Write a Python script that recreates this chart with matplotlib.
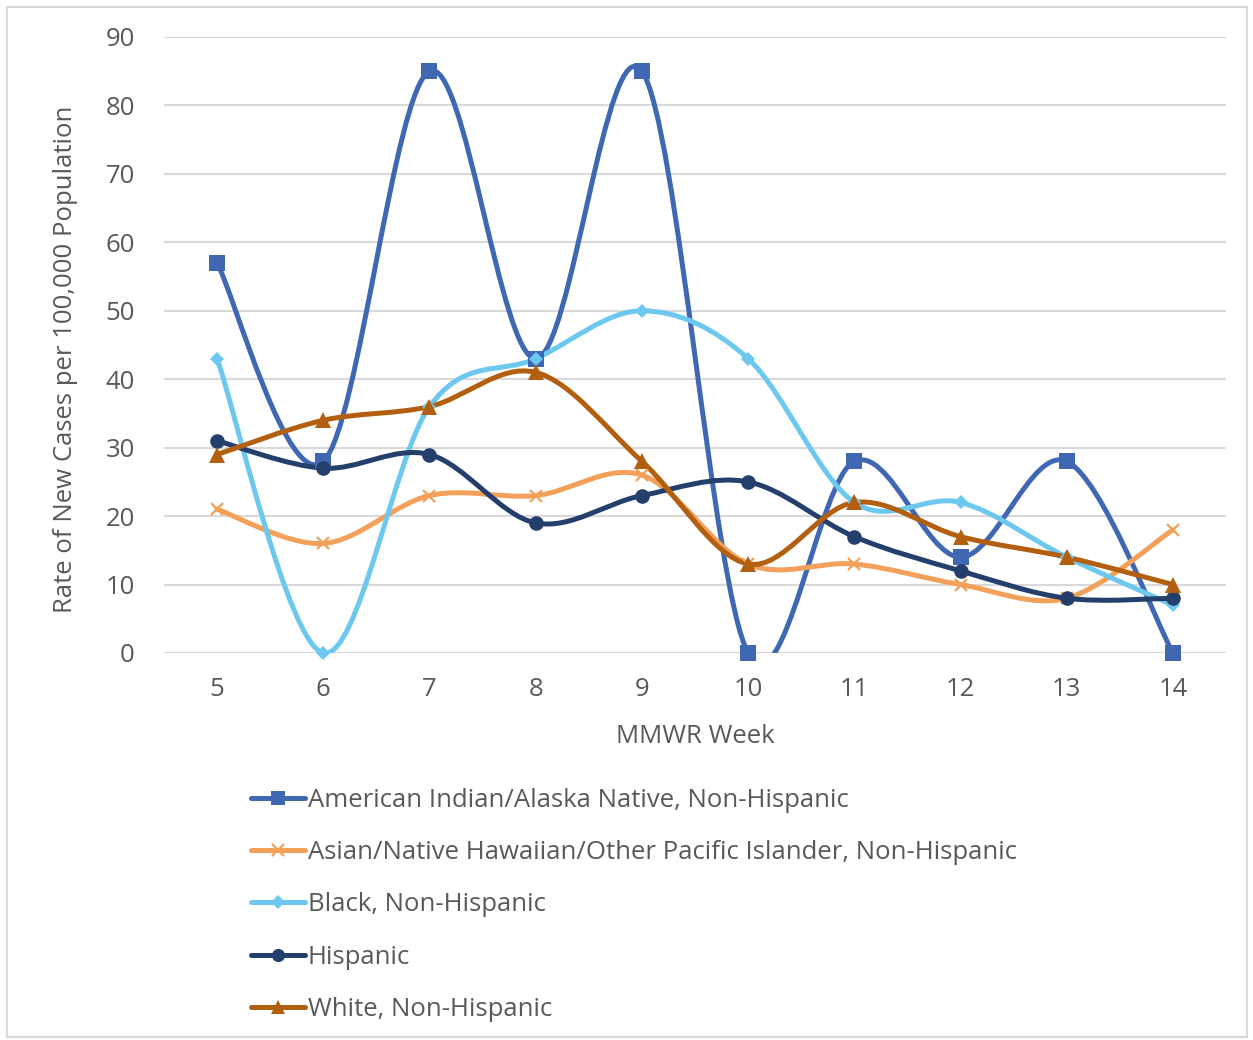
"""
Weekly rate of new cases by race/ethnicity, Excel-style smoothed lines.
"""
import matplotlib

matplotlib.use("Agg", force=True)
import matplotlib.pyplot as plt
import numpy as np
from matplotlib.lines import Line2D
from matplotlib.patches import PathPatch, Rectangle
from matplotlib.path import Path

plt.rcParams["font.family"] = ["Open Sans", "DejaVu Sans"]

weeks = [5, 6, 7, 8, 9, 10, 11, 12, 13, 14]
aian = [57, 28, 85, 43, 85, 0, 28, 14, 28, 0]
asian_nhpi = [21, 16, 23, 23, 26, 13, 13, 10, 8, 18]
black = [43, 0, 36, 43, 50, 43, 22, 22, 14, 7]
hispanic = [31, 27, 29, 19, 23, 25, 17, 12, 8, 8]
white = [29, 34, 36, 41, 28, 13, 22, 17, 14, 10]

series_labels = [
    "American Indian/Alaska Native, Non-Hispanic",
    "Asian/Native Hawaiian/Other Pacific Islander, Non-Hispanic",
    "Black, Non-Hispanic",
    "Hispanic",
    "White, Non-Hispanic",
]
y_ticks = [0, 10, 20, 30, 40, 50, 60, 70, 80, 90]

TEXT = "#595959"
GRID = "#D9D9D9"


def smooth_path(xs, ys):
    """Bezier path through the points with Catmull-Rom style tangents."""
    pts = np.column_stack([xs, ys]).astype(float)
    n = len(pts)
    verts = [pts[0]]
    codes = [Path.MOVETO]
    for i in range(n - 1):
        p0 = pts[max(i - 1, 0)]
        p1 = pts[i]
        p2 = pts[i + 1]
        p3 = pts[min(i + 2, n - 1)]
        c1 = p1 + (p2 - p0) / 6.0
        c2 = p2 - (p3 - p1) / 6.0
        verts += [c1, c2, p2]
        codes += [Path.CURVE4] * 3
    return Path(np.array(verts), codes)


fig = plt.figure(figsize=(12.53, 10.4), dpi=100)
fig.patches.append(
    Rectangle((7 / 1253, 3 / 1040), 1240 / 1253, 1030 / 1040, transform=fig.transFigure,
              facecolor="none", edgecolor=GRID, linewidth=1.5)
)
ax = fig.add_axes([164 / 1253, 1 - 653 / 1040, 1062 / 1253, 616 / 1040])

styles = [
    dict(data=aian, color="#4068B2", marker="s", ms=11, mew=0),
    dict(data=asian_nhpi, color="#F2A05A", marker="x", ms=9, mew=1.6),
    dict(data=black, color="#6DC8F0", marker="D", ms=7.5, mew=0),
    dict(data=hispanic, color="#243F6B", marker="o", ms=10.5, mew=0),
    dict(data=white, color="#B35F10", marker="^", ms=11, mew=0),
]

handles = []
for st, label in zip(styles, series_labels):
    path = smooth_path(weeks, st["data"])
    ax.add_patch(PathPatch(path, facecolor="none", edgecolor=st["color"],
                           linewidth=3.6, capstyle="round", joinstyle="round", zorder=3))
    ax.plot(weeks, st["data"], linestyle="none", marker=st["marker"], markersize=st["ms"],
            color=st["color"], markeredgewidth=st["mew"], markeredgecolor=st["color"],
            clip_on=False, zorder=4)
    handles.append(Line2D([], [], color=st["color"], linewidth=3.6, marker=st["marker"],
                          markersize=st["ms"] * 0.9, markeredgewidth=st["mew"],
                          markeredgecolor=st["color"], solid_capstyle="round"))

ax.set_xlim(4.5, 14.5)
ax.set_ylim(0, 90)
ax.set_xticks(weeks)
ax.set_yticks(y_ticks)
ax.tick_params(axis="both", length=0, labelsize=18.5, colors=TEXT)
ax.tick_params(axis="y", pad=21)
ax.tick_params(axis="x", pad=17)
ax.grid(axis="y", color=GRID, linewidth=1.5)
ax.set_axisbelow(True)
for side in ["left", "right", "top", "bottom"]:
    ax.spines[side].set_visible(False)

ax.set_xlabel("MMWR Week", fontsize=18.5, color=TEXT, labelpad=16)
ax.set_ylabel("Rate of New Cases per 100,000 Population", fontsize=18.5, color=TEXT, va="center")
ax.yaxis.set_label_coords(-0.0923, 0.476)

fig.legend(handles, series_labels, loc="upper left", bbox_to_anchor=(238 / 1253, 1 - 775 / 1040),
           frameon=False, fontsize=18.5, labelcolor=TEXT, handlelength=2.1,
           handletextpad=0.12, labelspacing=1.06, borderpad=0)

fig.savefig("out.png", dpi=100)
